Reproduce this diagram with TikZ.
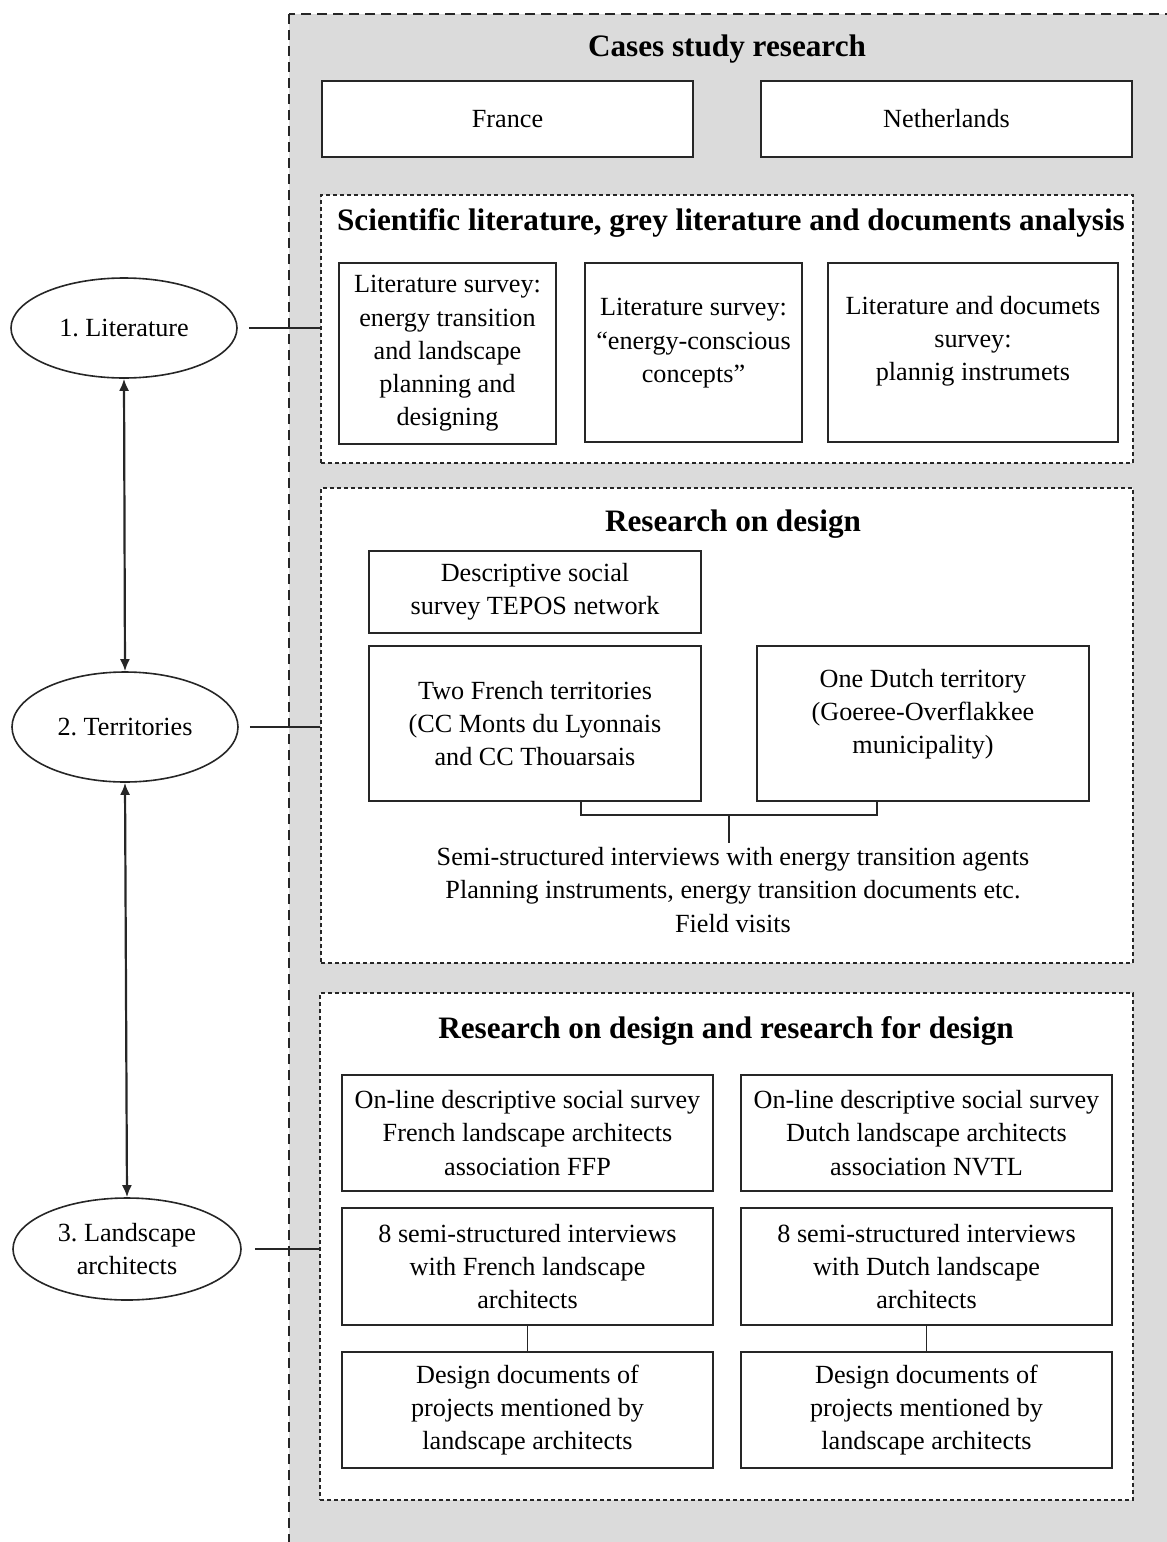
\documentclass[tikz,border=0pt]{standalone}
\usepackage{fontspec}
\setmainfont{Liberation Serif}
\usepackage{tikz}
\usetikzlibrary{shapes.geometric,arrows.meta}
\frenchspacing

\begin{document}
\begin{tikzpicture}[x=0.5pt,y=-0.5pt,>={Latex[length=6pt,width=5pt]},line width=0.8pt]
    \tikzstyle{box}=[rectangle,draw=black!85,fill=white,align=center,inner sep=0pt,font=\fontsize{13.1}{16.6}\selectfont]
    \tikzstyle{raised}=[text depth=12pt]
    \tikzstyle{group}=[rectangle,draw=black!85,fill=white,dash pattern=on 2pt off 1.5pt,inner sep=0pt]
    \tikzstyle{heading}=[font=\fontsize{15.6}{18}\selectfont\bfseries]
    \tikzstyle{annot}=[align=center,inner sep=2pt,font=\fontsize{13.1}{16.6}\selectfont]
    \tikzstyle{phase}=[ellipse,draw=black!85,fill=white,align=center,inner sep=0pt,font=\fontsize{13.1}{16.6}\selectfont]
    \tikzstyle{link}=[draw=black!85]

    \useasboundingbox (0,0) rectangle (1167,1542);

    % Grey frame of the case studies
    \draw[fill=black!14,draw=black!85,dash pattern=on 5pt off 3pt] (289,14) rectangle (1200,1570);
    \node[heading] (cases) at (727,49) {Cases study research};
    \node[box,minimum width=185.5pt,minimum height=38pt] (fr) at (507.5,119) {France};
    \node[box,minimum width=185.5pt,minimum height=38pt] (nl) at (946.5,119) {Netherlands};

    % Literature group
    \node[group,minimum width=406pt,minimum height=134pt] (litgroup) at (727,329) {};
    \node[heading] at (731,223) {Scientific literature, grey literature and documents analysis};
    \node[box,minimum width=108.5pt,minimum height=90.5pt] (lit-1) at (447.5,353.5)
        {Literature survey:\\energy transition\\and landscape\\planning and\\designing};
    \node[box,raised,minimum width=108.5pt,minimum height=89.5pt] (lit-2) at (693.5,352.5)
        {Literature survey:\\“energy-conscious\\concepts”};
    \node[box,raised,text depth=14pt,minimum width=145pt,minimum height=89.5pt] (lit-3) at (973,352.5)
        {Literature and documets\\survey:\\plannig instrumets};

    % Research on design group
    \node[group,minimum width=406pt,minimum height=237.5pt] (rodgroup) at (727,725.5) {};
    \node[heading] at (733,524) {Research on design};
    \node[box,minimum width=166pt,minimum height=41pt] (tepos) at (535,592)
        {Descriptive social\\survey TEPOS network};
    \node[box,minimum width=166pt,minimum height=77.5pt] (terr-fr) at (535,723.5)
        {Two French territories\\(CC Monts du Lyonnais\\and CC Thouarsais};
    \node[box,raised,minimum width=166pt,minimum height=77.5pt] (terr-nl) at (923,723.5)
        {One Dutch territory\\(Goeree-Overflakkee\\municipality)};
    \node[annot] (methods) at (733,890)
        {Semi-structured interviews with energy transition agents\\Planning instruments, energy transition documents etc.\\Field visits};
    \coordinate (join) at (729,815);
    \draw[link] ([xshift=23pt]terr-fr.south) |- (join) -| ([xshift=-23pt]terr-nl.south);
    \draw[link] (join) -- (join |- methods.north);

    % Research for design group
    \node[group,minimum width=406.5pt,minimum height=253.5pt] (rfdgroup) at (726.5,1246.5) {};
    \node[heading] at (726,1031) {Research on design and research for design};
    \node[box,minimum width=185.5pt,minimum height=58pt] (ffp) at (527.5,1133)
        {On-line descriptive social survey\\French landscape architects\\association FFP};
    \node[box,minimum width=185.5pt,minimum height=58pt] (nvtl) at (926.5,1133)
        {On-line descriptive social survey\\Dutch landscape architects\\association NVTL};
    \node[box,minimum width=185.5pt,minimum height=58.5pt] (int-fr) at (527.5,1266.5)
        {8 semi-structured interviews\\with French landscape\\architects};
    \node[box,minimum width=185.5pt,minimum height=58.5pt] (int-nl) at (926.5,1266.5)
        {8 semi-structured interviews\\with Dutch landscape\\architects};
    \node[box,minimum width=185.5pt,minimum height=58pt] (doc-fr) at (527.5,1410)
        {Design documents of\\projects mentioned by\\landscape architects};
    \node[box,minimum width=185.5pt,minimum height=58pt] (doc-nl) at (926.5,1410)
        {Design documents of\\projects mentioned by\\landscape architects};
    \draw[link] (int-fr) -- (doc-fr);
    \draw[link] (int-nl) -- (doc-nl);

    % Phases on the left
    \node[phase,minimum width=113pt,minimum height=50pt] (lit) at (124,328) {1. Literature};
    \node[phase,minimum width=113pt,minimum height=55pt] (terr) at (125,727) {2. Territories};
    \node[phase,minimum width=114pt,minimum height=51pt] (land) at (127,1249) {3. Landscape\\architects};
    \draw[link,<->,line width=1.1pt] (lit.south) -- (terr.north);
    \draw[link,<->,line width=1.1pt] (terr.south) -- (land.north);

    % Connect every phase with its group
    \draw[link,line width=1pt] ([xshift=5.5pt]lit.east) -- (lit.east -| litgroup.west);
    \draw[link,line width=1pt] ([xshift=5.5pt]terr.east) -- (terr.east -| rodgroup.west);
    \draw[link,line width=1pt] ([xshift=6.5pt]land.east) -- (land.east -| rfdgroup.west);
\end{tikzpicture}
\end{document}
